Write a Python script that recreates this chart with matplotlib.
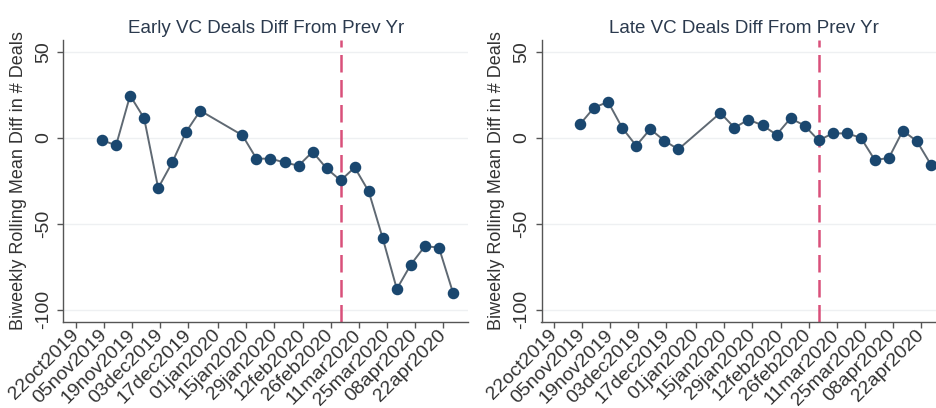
import matplotlib
matplotlib.use("Agg")
import matplotlib.pyplot as plt
import pandas as pd

plt.rcParams['font.family'] = ['Liberation Sans', 'DejaVu Sans']

# weekly observations (gap over the holidays)
weeks = (list(pd.date_range('2019-11-04', '2019-12-23', freq='7D')) +
         list(pd.date_range('2020-01-13', '2020-04-27', freq='7D')))

early_diff = [-1.4, -4.5, 24.5, 11.3, -29.3, -14.4, 3.5, 15.7,
              1.4, -12.2, -12.2, -14.4, -16.3, -8.2, -17.9, -24.9,
              -17.3, -31.3, -58.6, -88.0, -73.8, -63.1, -63.9, -90.1]
late_diff = [7.8, 17.5, 20.8, 5.8, -4.7, 5.0, -1.7, -6.8,
             14.4, 5.8, 10.5, 7.2, 1.7, 11.3, 7.0, -1.6,
             2.5, 2.5, 0.0, -13.0, -11.8, 4.1, -2.1, -15.7]

titles = ["Early VC Deals Diff From Prev Yr", "Late VC Deals Diff From Prev Yr"]
ylabel = "Biweekly Rolling Mean Diff in # Deals"
event_date = pd.Timestamp('2020-03-02')
tick_dates = pd.to_datetime(['2019-10-22', '2019-11-05', '2019-11-19', '2019-12-03',
                             '2019-12-17', '2020-01-01', '2020-01-15', '2020-01-29',
                             '2020-02-12', '2020-02-26', '2020-03-11', '2020-03-25',
                             '2020-04-08', '2020-04-22'])
yticks = [50, 0, -50, -100]

W, H = 936, 408
fig = plt.figure(figsize=(W / 100, H / 100), dpi=100)
fig.patch.set_facecolor('white')

positions = [(63.5, 468.0), (541.5, 946.0)]
top, bottom = 40.0, 321.5

for (x0, x1), title, vals in zip(positions, titles, [early_diff, late_diff]):
    ax = fig.add_axes([x0 / W, 1 - bottom / H, (x1 - x0) / W, (bottom - top) / H])
    ax.set_xlim(pd.Timestamp('2019-10-15 19:00'), pd.Timestamp('2020-05-04 12:00'))
    ax.set_ylim(-106.9, 56.8)

    for y in yticks:
        ax.axhline(y, color='#eef0f2', lw=1.0, zorder=0)

    ax.plot(weeks, vals, color='#5f6973', lw=1.4, marker='o', ms=7.3,
            mfc='#1a476f', mec='#1a476f', zorder=3)
    ax.axvline(event_date, color='#d9507a', lw=1.8, dashes=(7, 3), zorder=2)

    for side in ['top', 'right']:
        ax.spines[side].set_visible(False)
    for side in ['left', 'bottom']:
        ax.spines[side].set_color('#555555')
        ax.spines[side].set_linewidth(1.0)

    ax.set_yticks(yticks)
    ax.set_yticklabels([str(v) for v in yticks], rotation=90, va='center')
    ax.set_xticks(tick_dates)
    ax.set_xticklabels([d.strftime('%d%b%Y').lower() for d in tick_dates],
                       rotation=45, ha='right', va='center', rotation_mode='anchor')
    ax.tick_params(axis='both', colors='#555555', labelcolor='#333333',
                   length=4, width=1.0, labelsize=14)
    ax.tick_params(axis='y', pad=4)
    ax.tick_params(axis='x', pad=4)

    ax.set_ylabel(ylabel, fontsize=13, color='#333333', labelpad=6)
    ax.set_title(title, fontsize=13.5, color='#2b3a4e', pad=5)

fig.savefig('out.png', dpi=100, facecolor='white')
